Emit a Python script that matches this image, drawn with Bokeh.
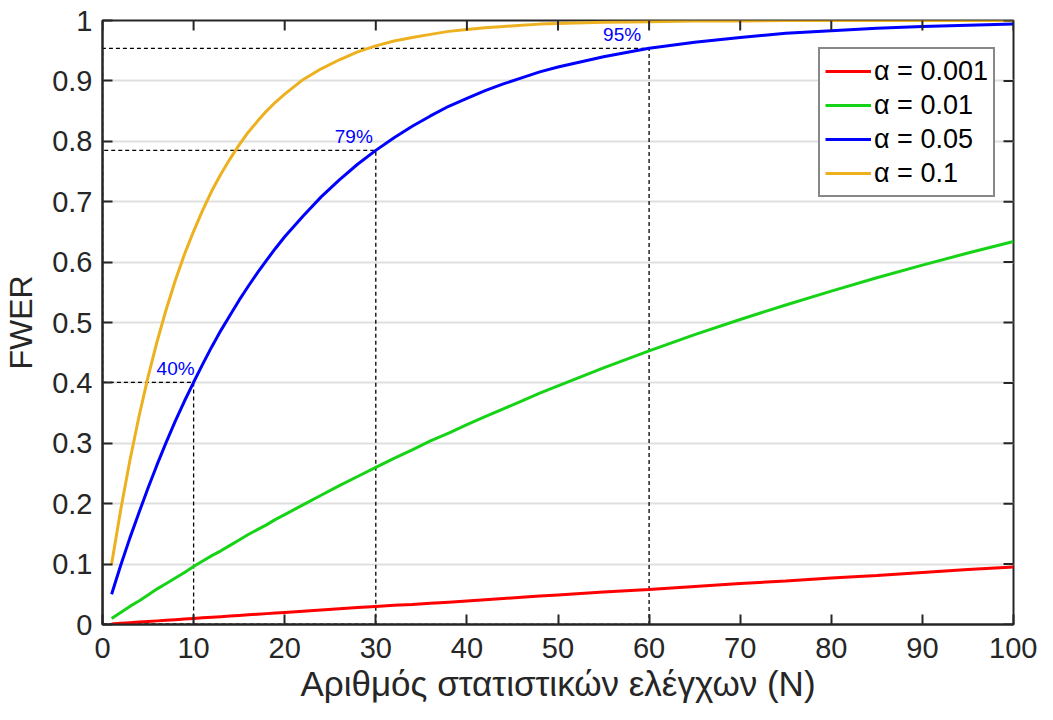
import math
from bokeh.plotting import figure
from bokeh.models import Range1d, FixedTicker, NumeralTickFormatter, Legend, LegendItem
from bokeh.core.properties import value
from bokeh.embed import file_html
from bokeh.resources import INLINE

# ---------------- data ----------------
N = [1, 2, 3, 4, 5, 6, 7, 8, 9, 10, 11, 12, 13, 14, 15, 16, 17, 18, 19, 20,
     22, 24, 26, 28, 30, 32, 34, 36, 38, 40, 42, 44, 46, 48, 50,
     55, 60, 65, 70, 75, 80, 85, 90, 95, 100]

fwer_0001 = [0.001, 0.002, 0.003, 0.004, 0.005, 0.006, 0.007, 0.008, 0.009, 0.010,
             0.011, 0.012, 0.013, 0.014, 0.015, 0.016, 0.017, 0.018, 0.019, 0.020,
             0.022, 0.024, 0.026, 0.028, 0.030, 0.032, 0.033, 0.035, 0.037, 0.039,
             0.041, 0.043, 0.045, 0.047, 0.049,
             0.054, 0.058, 0.063, 0.068, 0.072, 0.077, 0.081, 0.086, 0.091, 0.095]
fwer_001 = [0.010, 0.020, 0.030, 0.039, 0.049, 0.059, 0.068, 0.077, 0.086, 0.096,
            0.105, 0.114, 0.122, 0.131, 0.140, 0.149, 0.157, 0.165, 0.174, 0.182,
            0.198, 0.214, 0.230, 0.245, 0.260, 0.275, 0.289, 0.304, 0.317, 0.331,
            0.344, 0.357, 0.370, 0.383, 0.395,
            0.425, 0.453, 0.480, 0.505, 0.529, 0.552, 0.574, 0.595, 0.615, 0.634]
fwer_005 = [0.050, 0.098, 0.143, 0.185, 0.226, 0.265, 0.302, 0.337, 0.370, 0.401,
            0.431, 0.460, 0.487, 0.512, 0.537, 0.560, 0.582, 0.603, 0.623, 0.642,
            0.676, 0.708, 0.736, 0.762, 0.785, 0.806, 0.825, 0.842, 0.858, 0.871,
            0.884, 0.895, 0.905, 0.915, 0.923,
            0.940, 0.954, 0.964, 0.972, 0.979, 0.983, 0.987, 0.990, 0.992, 0.994]
fwer_01 = [0.100, 0.190, 0.271, 0.344, 0.410, 0.469, 0.522, 0.570, 0.613, 0.651,
           0.686, 0.718, 0.746, 0.771, 0.794, 0.815, 0.833, 0.850, 0.865, 0.878,
           0.902, 0.920, 0.935, 0.948, 0.958, 0.966, 0.972, 0.977, 0.982, 0.985,
           0.988, 0.990, 0.992, 0.994, 0.995,
           0.997, 0.998, 0.999, 0.999, 1.000, 1.000, 1.000, 1.000, 1.000, 1.000]

series_labels = ["α = 0.001", "α = 0.01", "α = 0.05", "α = 0.1"]
series_colors = ["#FF0000", "#17D317", "#0000FF", "#EDB120"]

mark_N = [10, 30, 60]
mark_p = [0.401, 0.785, 0.954]
mark_text = ["40%", "79%", "95%"]

x_ticks = [0, 10, 20, 30, 40, 50, 60, 70, 80, 90, 100]
y_ticks = [0, 0.1, 0.2, 0.3, 0.4, 0.5, 0.6, 0.7, 0.8, 0.9, 1]

FONT = "Liberation Sans"
AX_COL = "#262626"

X0, X1 = 0, 100
Y0, Y1 = 0, 1

# ---------------- figure ----------------
p = figure(width=1037, height=704, output_backend="svg", toolbar_location=None,
           x_range=Range1d(X0, X1), y_range=Range1d(Y0, Y1))
p.min_border_left = 102
p.min_border_right = 24
p.min_border_top = 20
p.min_border_bottom = 80
p.frame_width = 911
p.frame_height = 604
p.outline_line_color = AX_COL
p.outline_line_width = 2
p.background_fill_color = "white"
p.border_fill_color = "white"

# grid
p.xgrid.visible = False
p.ygrid.ticker = FixedTicker(ticks=y_ticks)
p.ygrid.grid_line_color = "#DFDFDF"
p.ygrid.grid_line_width = 2

# dashed guide rectangles
for n, pr in zip(mark_N, mark_p):
    p.line([X0, n, n, X0, X0], [Y0, Y0, pr, pr, Y0], line_color="black",
           line_width=1.3, line_dash="4 3")

renderers = []
for ys, col in zip([fwer_0001, fwer_001, fwer_005, fwer_01], series_colors):
    renderers.append(p.line(N, ys, line_color=col, line_width=3))

# percentage labels
offsets = [1, -3, -8]
for n, pr, t, xo in zip(mark_N, mark_p, mark_text, offsets):
    p.text(x=[n], y=[pr], text=[t], text_color="#0000FF",
           text_font=value(FONT), text_font_size="19px",
           text_align="right", text_baseline="bottom",
           x_offset=xo, y_offset=-3)

# inward ticks on top and right edges (MATLAB box style)
p.ray(x=x_ticks, y=[Y1] * len(x_ticks), length=10, length_units="screen",
      angle=-math.pi / 2, line_color=AX_COL, line_width=2)
p.ray(x=[X1] * len(y_ticks), y=y_ticks, length=10, length_units="screen",
      angle=math.pi, line_color=AX_COL, line_width=2)

# axes styling
def style_axis(ax, ticks):
    ax.ticker = FixedTicker(ticks=ticks)
    ax.major_tick_in = 10
    ax.major_tick_out = 0
    ax.minor_tick_in = 0
    ax.minor_tick_out = 0
    ax.major_tick_line_color = AX_COL
    ax.major_tick_line_width = 2
    ax.axis_line_color = AX_COL
    ax.axis_line_width = 2
    ax.major_label_text_font = FONT
    ax.major_label_text_color = AX_COL
    ax.major_label_text_font_size = "29px"
    ax.axis_label_text_font = FONT
    ax.axis_label_text_font_style = "normal"
    ax.axis_label_text_color = AX_COL

style_axis(p.xaxis[0], x_ticks)
style_axis(p.yaxis[0], y_ticks)
p.yaxis[0].formatter = NumeralTickFormatter(format="0.[0]")
p.xaxis[0].major_label_standoff = 13
p.yaxis[0].major_label_standoff = 10

p.xaxis[0].axis_label = "Αριθμός στατιστικών ελέγχων (N)"
p.yaxis[0].axis_label = "FWER"
p.xaxis[0].axis_label_text_font_size = "35px"
p.yaxis[0].axis_label_text_font_size = "32px"
p.xaxis[0].axis_label_standoff = 3
p.yaxis[0].axis_label_standoff = 10

# legend
items = [LegendItem(label=lab, renderers=[r]) for lab, r in zip(series_labels, renderers)]
legend = Legend(items=items, location=(716, 427))
legend.label_text_font = FONT
legend.label_text_font_size = "27px"
legend.label_text_color = "black"
legend.glyph_width = 46
legend.glyph_height = 34
legend.label_height = 34
legend.label_standoff = 3
legend.spacing = 0
legend.padding = 5
legend.margin = 0
legend.border_line_color = "#111111"
legend.border_line_width = 2
legend.background_fill_color = "white"
legend.background_fill_alpha = 1
p.add_layout(legend, "center")

open("out.html", "w").write(file_html(p, INLINE))
